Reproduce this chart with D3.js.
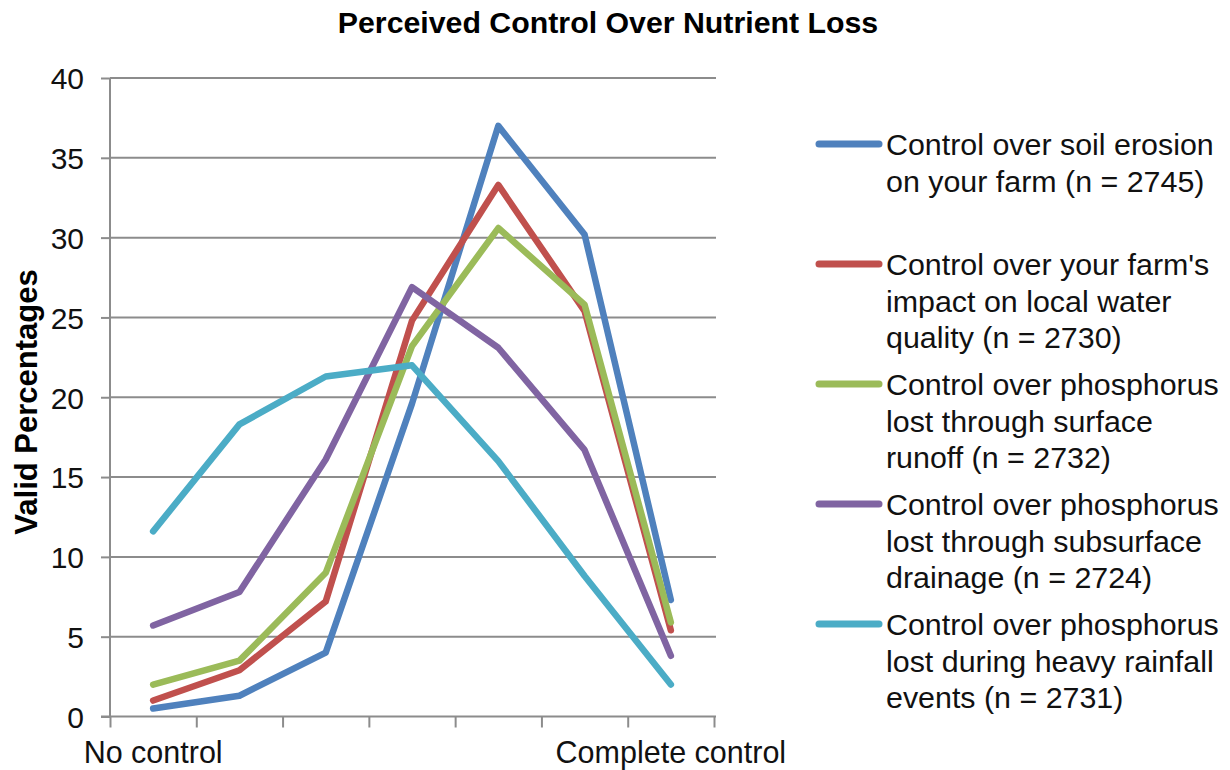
<!DOCTYPE html>
<html>
<head>
<meta charset="utf-8">
<script src="https://cdn.jsdelivr.net/npm/d3@7/dist/d3.min.js"></script>
<style>
  html, body { margin: 0; padding: 0; background: #ffffff; }
  svg { display: block; font-family: "Liberation Sans", Arial, sans-serif; }
</style>
</head>
<body>
<svg id="chart" width="1230" height="770"></svg>
<script>
// ---- data ----
const categories = ["1", "2", "3", "4", "5", "6", "7"];
const xTickLabels = ["No control", "", "", "", "", "", "Complete control"];
const yTicks = [0, 5, 10, 15, 20, 25, 30, 35, 40];

const seriesNames = [
  "Control over soil erosion|on your farm (n = 2745)",
  "Control over your farm's|impact on local water|quality (n = 2730)",
  "Control over phosphorus|lost through surface|runoff (n = 2732)",
  "Control over phosphorus|lost through subsurface|drainage (n = 2724)",
  "Control over phosphorus|lost during heavy rainfall|events (n = 2731)"
];
const soilErosion     = [0.5, 1.3, 4.0, 19.6, 37.0, 30.2, 7.3];
const waterQuality    = [1.0, 2.9, 7.2, 24.8, 33.3, 25.4, 5.4];
const surfaceRunoff   = [2.0, 3.5, 9.0, 23.2, 30.6, 25.8, 5.9];
const subsurface      = [5.7, 7.8, 16.1, 26.9, 23.1, 16.7, 3.8];
const heavyRainfall   = [11.6, 18.3, 21.3, 22.0, 16.0, 8.8, 2.0];
const seriesValues = [soilErosion, waterQuality, surfaceRunoff, subsurface, heavyRainfall];
const colors = ["#4F81BD", "#C0504D", "#9BBB59", "#8064A2", "#4BACC6"];

// ---- layout ----
const svg = d3.select("#chart");
const plotLeft = 110, plotRight = 714, plotTop = 78, plotBottom = 716.5;

const x = d3.scaleBand().domain(categories).range([plotLeft, plotRight]).padding(0);
const xb = d3.scaleLinear().domain([0, categories.length]).range([plotLeft, plotRight]);
const y = d3.scaleLinear().domain([0, 40]).range([plotBottom, plotTop]);

// title
svg.append("text")
  .attr("x", 608).attr("y", 33)
  .attr("text-anchor", "middle")
  .attr("font-size", 30.3).attr("font-weight", "bold")
  .attr("fill", "#000")
  .text("Perceived Control Over Nutrient Loss");

// gridlines
svg.append("g")
  .selectAll("line")
  .data(yTicks.filter(d => d > 0))
  .join("line")
  .attr("x1", plotLeft).attr("x2", plotRight + 2)
  .attr("y1", d => y(d)).attr("y2", d => y(d))
  .attr("stroke", "#8c8c8c").attr("stroke-width", 2);

// y axis
const yAxis = svg.append("g")
  .attr("transform", `translate(${plotLeft},0)`)
  .call(d3.axisLeft(y).tickValues(yTicks).tickSize(9).tickPadding(17));
yAxis.select(".domain").attr("stroke", "#8c8c8c").attr("stroke-width", 2)
  .attr("d", `M0,${plotTop}V${plotBottom}`);
yAxis.selectAll(".tick line").attr("stroke", "#8c8c8c").attr("stroke-width", 2);
yAxis.selectAll(".tick text")
  .attr("font-size", 30).attr("fill", "#111")
  .attr("font-family", "'Liberation Sans', Arial, sans-serif")
  .attr("dy", "0.36em");

// x axis (boundary ticks)
const xAxis = svg.append("g")
  .attr("transform", `translate(0,${plotBottom})`)
  .call(d3.axisBottom(xb).tickValues(d3.range(categories.length + 1)).tickSize(11).tickFormat(""));
xAxis.select(".domain").attr("stroke", "#8c8c8c").attr("stroke-width", 2)
  .attr("d", `M${plotLeft - 9},0H${plotRight + 2}`);
xAxis.selectAll(".tick line").attr("stroke", "#8c8c8c").attr("stroke-width", 2);

// x category labels
const xLab = svg.append("g")
  .attr("transform", `translate(0,${plotBottom})`)
  .call(d3.axisBottom(x).tickSize(0).tickPadding(0).tickFormat((d, i) => xTickLabels[i]));
xLab.select(".domain").remove();
xLab.selectAll(".tick text")
  .attr("font-size", 30.5).attr("fill", "#111")
  .attr("font-family", "'Liberation Sans', Arial, sans-serif")
  .attr("y", 46.5).attr("dy", 0);

// y axis title
svg.append("text")
  .attr("transform", "translate(37,402) rotate(-90)")
  .attr("text-anchor", "middle")
  .attr("font-size", 31).attr("font-weight", "bold")
  .attr("fill", "#000")
  .text("Valid Percentages");

// lines
const line = d3.line()
  .x((d, i) => x(categories[i]) + x.bandwidth() / 2)
  .y(d => y(d));
svg.append("g")
  .selectAll("path")
  .data(seriesValues)
  .join("path")
  .attr("d", d => line(d))
  .attr("fill", "none")
  .attr("stroke", (d, i) => colors[i])
  .attr("stroke-width", 6.5)
  .attr("stroke-linejoin", "round")
  .attr("stroke-linecap", "round");

// legend
const legend = svg.append("g");
const legTop = 144, legStep = 120, lineH = 36.5;
seriesNames.forEach((name, i) => {
  const cy = legTop + i * legStep;
  legend.append("line")
    .attr("x1", 819).attr("x2", 879)
    .attr("y1", cy).attr("y2", cy)
    .attr("stroke", colors[i]).attr("stroke-width", 7)
    .attr("stroke-linecap", "round");
  const t = legend.append("text")
    .attr("x", 886).attr("y", cy + 11)
    .attr("font-size", 30.4).attr("fill", "#111");
  name.split("|").forEach((ln, j) => {
    t.append("tspan").attr("x", 886).attr("dy", j === 0 ? 0 : lineH).text(ln);
  });
});
</script>
</body>
</html>
